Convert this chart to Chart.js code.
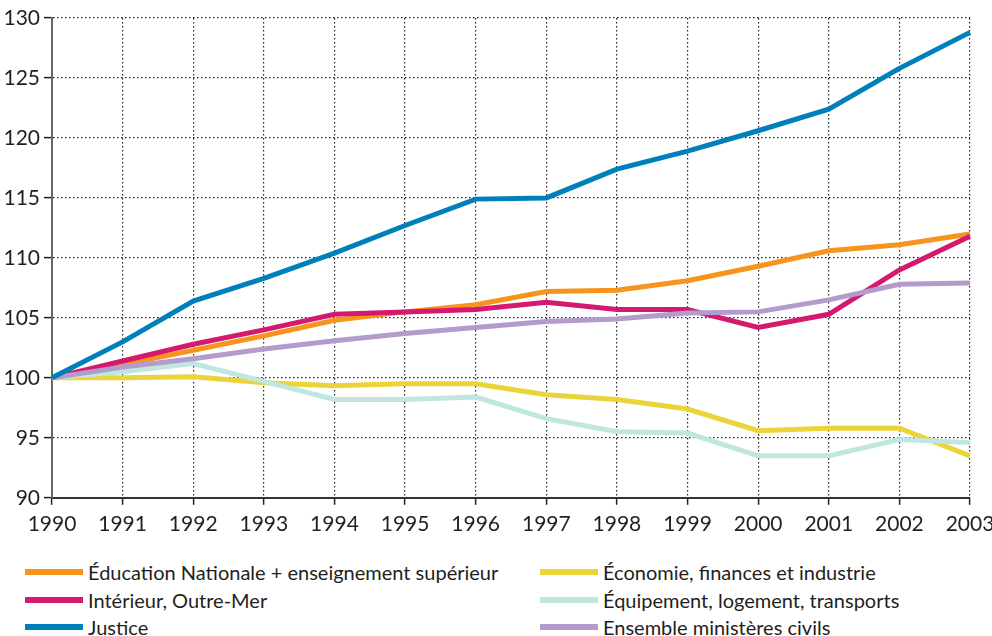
<!DOCTYPE html>
<html lang="fr">
<head>
  <meta charset="UTF-8">
  <title>Évolution des effectifs par ministère</title>
  <style>
    body {
      margin: 0;
      padding: 0;
      background: #ffffff;
      font-family: Lato, 'Open Sans', sans-serif;
      color: #231f20;
    }
    .wrap {
      position: relative;
      width: 992px;
      height: 636px;
    }
    .chart-box {
      position: absolute;
      left: 0;
      top: 0;
      width: 992px;
      height: 544px;
    }
    .legend-item {
      position: absolute;
      height: 24px;
      line-height: 24px;
      font-size: 20px;
      white-space: nowrap;
    }
    .legend-item .swatch {
      position: absolute;
      left: 0;
      top: 9px;
      width: 58px;
      height: 6px;
    }
    .legend-item .txt {
      position: absolute;
      left: 63px;
      top: 0;
    }
  </style>
  <script src="https://cdn.jsdelivr.net/npm/chart.js"></script>
</head>
<body>
<div class="wrap">
  <div class="chart-box"><canvas id="chart"></canvas></div>
  <div id="legend"></div>
</div>

<script>
  // années
  const years = ['1990', '1991', '1992', '1993', '1994', '1995', '1996',
                 '1997', '1998', '1999', '2000', '2001', '2002', '2003'];

  // indices base 100 en 1990
  const education  = [100, 101.1, 102.3, 103.5, 104.8, 105.5, 106.1, 107.2, 107.3, 108.1, 109.3, 110.6, 111.1, 112.0];
  const interieur  = [100, 101.4, 102.8, 104.0, 105.3, 105.5, 105.7, 106.3, 105.7, 105.7, 104.2, 105.3, 109.0, 111.8];
  const justice    = [100, 103.0, 106.4, 108.3, 110.4, 112.7, 114.9, 115.0, 117.4, 118.9, 120.6, 122.4, 125.8, 128.8];
  const economie   = [100, 100.0, 100.1, 99.6, 99.35, 99.5, 99.5, 98.6, 98.2, 97.4, 95.6, 95.8, 95.8, 93.5];
  const equipement = [100, 100.5, 101.2, 99.7, 98.2, 98.2, 98.4, 96.6, 95.5, 95.4, 93.5, 93.5, 94.85, 94.6];
  const ensemble   = [100, 100.9, 101.6, 102.4, 103.1, 103.7, 104.2, 104.7, 104.9, 105.4, 105.5, 106.5, 107.8, 107.9];

  const yTicks = [90, 95, 100, 105, 110, 115, 120, 125, 130];

  const series = [
    { label: 'Éducation Nationale + enseignement supérieur', data: education,  color: '#f7941d', order: 3, col: 0, row: 0 },
    { label: 'Intérieur, Outre-Mer',                         data: interieur,  color: '#d4196e', order: 2, col: 0, row: 1 },
    { label: 'Justice',                                      data: justice,    color: '#0080ba', order: 0, col: 0, row: 2 },
    { label: 'Économie, finances et industrie',              data: economie,   color: '#ebd43a', order: 5, col: 1, row: 0 },
    { label: 'Équipement, logement, transports',             data: equipement, color: '#bfe6df', order: 4, col: 1, row: 1 },
    { label: 'Ensemble ministères civils',                   data: ensemble,   color: '#b39bcb', order: 1, col: 1, row: 2 }
  ];

  const font = { family: 'Lato, "Open Sans", sans-serif', size: 21 };

  new Chart(document.getElementById('chart'), {
    type: 'line',
    data: {
      labels: years,
      datasets: series.map(s => ({
        label: s.label,
        data: s.data,
        borderColor: s.color,
        backgroundColor: s.color,
        borderWidth: 5,
        pointRadius: 0,
        tension: 0,
        order: s.order
      }))
    },
    options: {
      responsive: true,
      maintainAspectRatio: false,
      animation: false,
      layout: { padding: { left: 0, right: 22, top: 18, bottom: 0 } },
      plugins: {
        legend: { display: false },
        tooltip: { enabled: false }
      },
      scales: {
        x: {
          offset: false,
          afterFit: (scale) => { scale.paddingRight = 0; scale.paddingLeft = 0; },
          grid: {
            color: '#222',
            lineWidth: 1.2,
            tickLength: 7,
            tickColor: '#222',
            tickWidth: 1.5
          },
          border: { color: '#333', width: 2, dash: [1.5, 2.5] },
          ticks: { color: '#231f20', font: font, padding: 7, maxRotation: 0, autoSkip: false }
        },
        y: {
          min: 90,
          max: 130,
          afterBuildTicks: (scale) => { scale.ticks = yTicks.map(v => ({ value: v })); },
          afterFit: (scale) => { scale.width = 52; },
          grid: {
            color: '#222',
            lineWidth: 1.2,
            tickLength: 8,
            tickColor: '#222',
            tickWidth: 1.5
          },
          border: { color: '#666', width: 2, dash: [1.5, 2.5] },
          ticks: { color: '#231f20', font: font, padding: 4 }
        }
      }
    }
  });

  // légende en deux colonnes
  const legend = document.getElementById('legend');
  const colX = [25, 540];
  const rowY = [560, 588, 615];
  series.forEach(s => {
    const item = document.createElement('div');
    item.className = 'legend-item';
    item.style.left = colX[s.col] + 'px';
    item.style.top = rowY[s.row] + 'px';
    item.innerHTML = `<span class="swatch" style="background:${s.color}"></span><span class="txt">${s.label}</span>`;
    legend.appendChild(item);
  });
</script>
</body>
</html>
